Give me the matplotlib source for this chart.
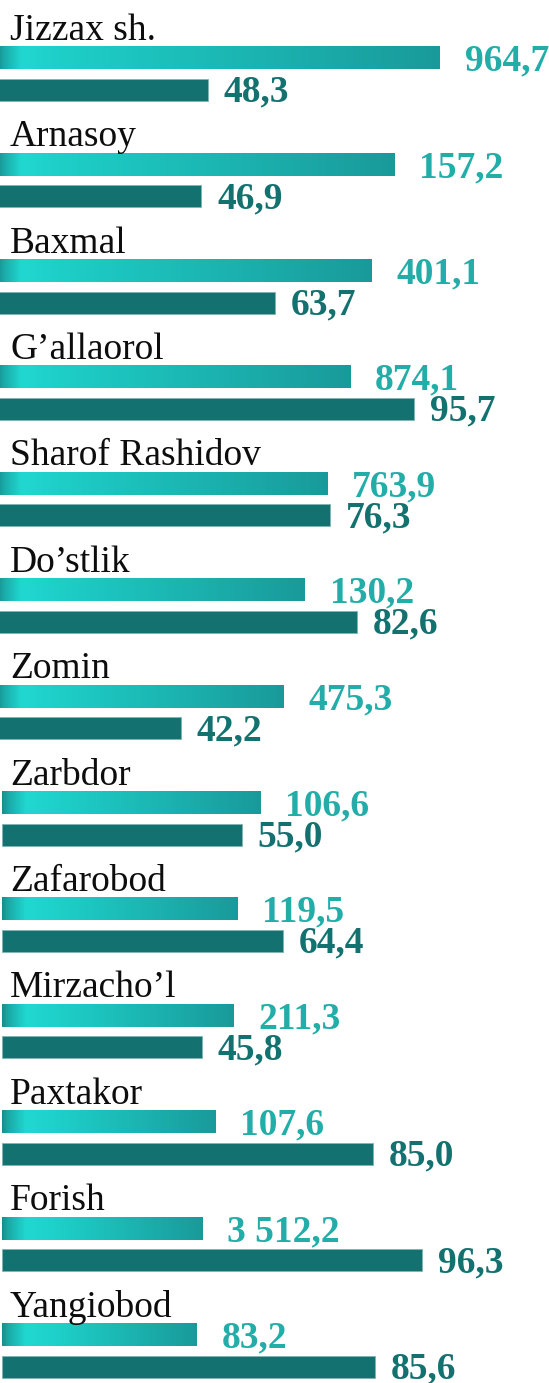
import numpy as np
import matplotlib.pyplot as plt
from matplotlib.colors import to_rgb

# districts of Jizzax region
districts = ["Jizzax sh.", "Arnasoy", "Baxmal", "G\u2019allaorol", "Sharof Rashidov",
             "Do\u2019stlik", "Zomin", "Zarbdor", "Zafarobod", "Mirzacho\u2019l",
             "Paxtakor", "Forish", "Yangiobod"]
light_vals = [964.7, 157.2, 401.1, 874.1, 763.9, 130.2, 475.3, 106.6, 119.5, 211.3, 107.6, 3512.2, 83.2]
dark_vals = [48.3, 46.9, 63.7, 95.7, 76.3, 82.6, 42.2, 55.0, 64.4, 45.8, 85.0, 96.3, 85.6]
# drawn length of the light bars (decorative, not to scale with the labels)
light_len = [101.6, 91.1, 86.0, 81.0, 75.7, 70.6, 65.6, 59.2, 53.9, 53.0, 48.9, 45.9, 44.7]

W, H = 549, 1383
PX = 1 / 4.36      # x units per pixel
PY = 1 / 106.4     # row units per pixel
Y0 = 57.7 * PY

light_txt = '#22ada8'
dark_col = '#13716f'
dark_txt = '#137270'
serif = ['Liberation Serif', 'DejaVu Serif']


def fmt(v):
    s = f"{v:,.1f}"
    return s.replace(',', ' ').replace('.', ',')


def grad_colors(length_px, n=300):
    # dark edge on the left, bright cyan peak, then slowly darker to the end
    pos = [0, 6, 24, 55, length_px]
    cols = [to_rgb(c) for c in ['#178f8e', '#1aa9a7', '#21d8d1', '#1ed0c9', '#199a9a']]
    xs = np.linspace(0, length_px, n)
    arr = np.zeros((1, n, 3))
    for k in range(3):
        arr[0, :, k] = np.interp(xs, pos, [c[k] for c in cols])
    return arr


fig = plt.figure(figsize=(W / 100, H / 100), dpi=100)
ax = fig.add_axes([0, 0, 1, 1])

n = len(districts)
rows = np.arange(n)
left = np.where(rows < 7, -3 * PX, 2 * PX)
y_light = Y0 + rows
y_dark = y_light + 32 * PY
h_light = 23 * PY
h_dark = 22 * PY

bars = ax.barh(y_light, light_len, left=left, height=h_light, color='#1fc4be', linewidth=0)
for i, b in enumerate(bars):
    x0 = left[i]
    x1 = x0 + light_len[i]
    im = ax.imshow(grad_colors(light_len[i] / PX), extent=(x0, x1, y_light[i] + h_light / 2,
                   y_light[i] - h_light / 2), aspect='auto', interpolation='bilinear', zorder=2)
    im.set_clip_path(b)

ax.barh(y_dark, dark_vals, left=left, height=h_dark, color=dark_col,
        edgecolor='#7fb5b3', linewidth=0.6, zorder=2)

for i in range(n):
    ax.text(10 * PX, y_light[i] - 18 * PY, districts[i], fontsize=27, family=serif,
            color='#0d0d0d', va='baseline', ha='left')
    ax.text(left[i] + light_len[i] + 25 * PX, y_light[i] + 13 * PY, fmt(light_vals[i]),
            fontsize=27, family=serif, weight='bold', color=light_txt, va='baseline')
    ax.text(left[i] + dark_vals[i] + 16 * PX, y_dark[i] + 12 * PY, fmt(dark_vals[i]),
            fontsize=27, family=serif, weight='bold', color=dark_txt, va='baseline')

ax.set_xlim(0, W * PX)
ax.set_ylim(H * PY, 0)
ax.axis('off')

fig.savefig('out.png', dpi=100, facecolor='white')
